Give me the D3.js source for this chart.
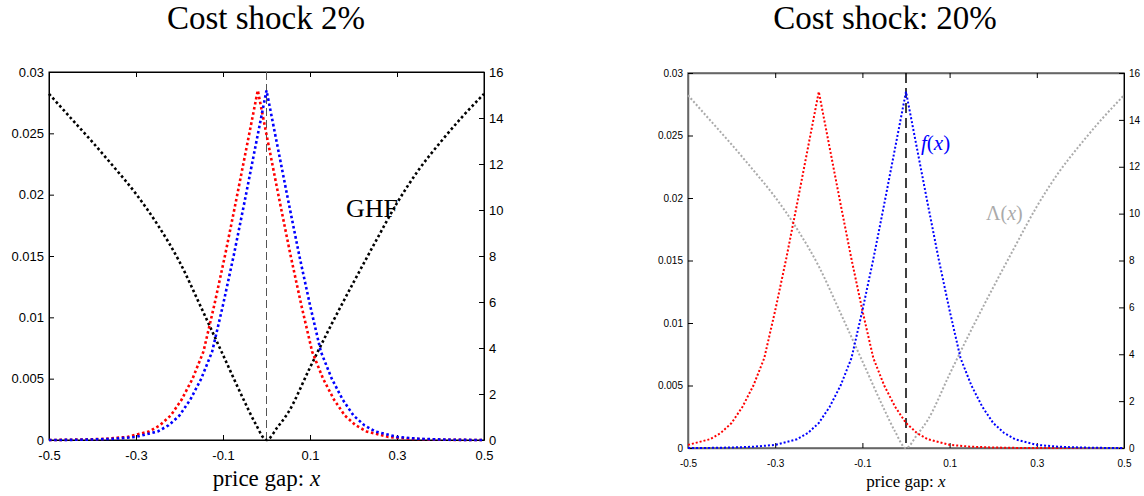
<!DOCTYPE html>
<html>
<head>
<meta charset="utf-8">
<script src="https://cdn.jsdelivr.net/npm/d3@7"></script>
<style>
  html, body { margin: 0; padding: 0; background: #fff; }
  svg { display: block; }
  .tick text { font-family: "Liberation Sans", Arial, sans-serif; }
</style>
</head>
<body>
<svg id="chart" width="1144" height="496"></svg>
<script>
// ---------------- data ----------------
const titles = ["Cost shock 2%", "Cost shock: 20%"];
const xLabelText = "price gap: ";
const xTicks = [-0.5, -0.3, -0.1, 0.1, 0.3, 0.5];
const densTicks = [0, 0.005, 0.01, 0.015, 0.02, 0.025, 0.03];
const hazTicks = [0, 2, 4, 6, 8, 10, 12, 14, 16];

// blue density (target distribution), same in both panels
const blueX = [-0.5,-0.45,-0.4,-0.35,-0.3,-0.25,-0.225,-0.2,-0.175,-0.15,-0.125,-0.1,-0.075,-0.05,-0.025,0,0.025,0.05,0.075,0.1,0.125,0.15,0.175,0.2,0.225,0.25,0.3,0.35,0.4,0.45,0.5];
const blueY = [0,0.00001,0.00004,0.0001,0.00025,0.0007,0.0012,0.002,0.0033,0.005,0.0072,0.011,0.0151,0.0195,0.024,0.0285,0.024,0.0195,0.0151,0.011,0.0072,0.005,0.0033,0.002,0.0012,0.0007,0.00025,0.0001,0.00004,0.00001,0];

// red density after 2% shock (left panel)
const redLeftX = [-0.5,-0.47,-0.42,-0.37,-0.32,-0.27,-0.245,-0.22,-0.195,-0.17,-0.145,-0.12,-0.095,-0.07,-0.045,-0.02,0.005,0.03,0.055,0.08,0.105,0.13,0.155,0.18,0.205,0.23,0.28,0.33,0.38,0.43,0.5];
const redLeftY = [0,0.00001,0.00004,0.0001,0.00025,0.0007,0.0012,0.002,0.0033,0.005,0.0072,0.011,0.0151,0.0195,0.024,0.0285,0.024,0.0195,0.0151,0.011,0.0072,0.005,0.0033,0.002,0.0012,0.0007,0.00025,0.0001,0.00004,0.00001,0];

// red density after 20% shock (right panel)
const redRightX = [-0.5,-0.45,-0.425,-0.4,-0.375,-0.35,-0.325,-0.3,-0.275,-0.25,-0.225,-0.2,-0.175,-0.15,-0.125,-0.1,-0.075,-0.05,-0.025,0,0.025,0.05,0.1,0.15,0.2,0.25,0.3,0.5];
const redRightY = [0.00025,0.0007,0.0012,0.002,0.0033,0.005,0.0072,0.011,0.0151,0.0195,0.024,0.0285,0.024,0.0195,0.0151,0.011,0.0072,0.005,0.0033,0.002,0.0012,0.0007,0.00025,0.0001,0.00004,0.00001,0,0];

// generalized hazard function Lambda(x)
const lamX = [-0.5,-0.45,-0.4,-0.35,-0.3,-0.25,-0.2,-0.15,-0.1,-0.05,-0.025,0,0.025,0.05,0.1,0.15,0.2,0.25,0.3,0.35,0.4,0.45,0.5];
const lamY = [15.05,14.0,12.95,11.85,10.7,9.35,7.75,5.75,3.7,1.65,0.7,0,0.55,1.2,3.15,5.05,6.85,8.6,10.3,11.75,12.95,14.05,15.05];

// ---------------- drawing ----------------
const svg = d3.select("#chart");

const panels = [
  { x0: 49, x1: 484, y0: 72, y1: 440, red: [redLeftX, redLeftY], lamColor: "#000",
    tickFont: 13, xPad: 11, dotW: 2.6, dash: "2.6,2.6", boxColor: "#000", boxW: 1,
    vColor: "#555", vW: 1, vDash: "8,4", titleX: 266, xlabFont: 23, xlabY: 486 },
  { x0: 688, x1: 1124, y0: 73, y1: 448, red: [redRightX, redRightY], lamColor: "#aaaaaa",
    tickFont: 10, xPad: 12, dotW: 2, dash: "2,2", boxColor: "#666", boxW: 1.5,
    vColor: "#000", vW: 1.5, vDash: "10,5", titleX: 885, xlabFont: 17, xlabY: 487 }
];

panels.forEach((p, i) => {
  const x = d3.scaleLinear().domain([-0.5, 0.5]).range([p.x0, p.x1]);
  const yD = d3.scaleLinear().domain([0, 0.03]).range([p.y1, p.y0]);
  const yH = d3.scaleLinear().domain([0, 16]).range([p.y1, p.y0]);
  const g = svg.append("g");

  // title
  svg.append("text").attr("x", p.titleX).attr("y", 29)
    .attr("text-anchor", "middle")
    .style("font-family", "'Liberation Serif', 'Times New Roman', serif")
    .style("font-size", "33px").style("fill", "#000")
    .text(titles[i]);

  // box
  g.append("rect").attr("x", p.x0).attr("y", p.y0)
    .attr("width", p.x1 - p.x0).attr("height", p.y1 - p.y0)
    .attr("fill", "none").attr("stroke", p.boxColor).attr("stroke-width", p.boxW);

  // axes
  const fmt = d => String(d);
  const bottom = g.append("g").attr("transform", `translate(0,${p.y1})`)
    .call(d3.axisBottom(x).tickValues(xTicks).tickFormat(fmt).tickSizeInner(-5).tickSizeOuter(0).tickPadding(p.xPad));
  const top = g.append("g").attr("transform", `translate(0,${p.y0})`)
    .call(d3.axisTop(x).tickValues(xTicks).tickFormat("").tickSizeInner(-5).tickSizeOuter(0));
  const left = g.append("g").attr("transform", `translate(${p.x0},0)`)
    .call(d3.axisLeft(yD).tickValues(densTicks).tickFormat(fmt).tickSizeInner(-5).tickSizeOuter(0).tickPadding(5));
  const right = g.append("g").attr("transform", `translate(${p.x1},0)`)
    .call(d3.axisRight(yH).tickValues(hazTicks).tickFormat(fmt).tickSizeInner(-5).tickSizeOuter(0).tickPadding(5));
  [bottom, top, left, right].forEach(a => {
    a.select(".domain").attr("stroke", i === 0 ? "#000" : "#666").attr("stroke-width", p.boxW);
    a.selectAll(".tick line").attr("stroke", "#000");
    a.selectAll(".tick text").style("font-size", p.tickFont + "px").attr("fill", "#000");
  });
  if (i === 1) right.select(".domain").attr("stroke", "#000").attr("stroke-width", 1);

  // vertical dashed line at x = 0
  g.append("line").attr("x1", x(0)).attr("x2", x(0)).attr("y1", p.y0).attr("y2", p.y1)
    .attr("stroke", p.vColor).attr("stroke-width", p.vW).attr("stroke-dasharray", p.vDash);

  const lineD = d3.line().x(d => x(d[0])).y(d => yD(d[1])).curve(d3.curveLinear);
  const lineH = d3.line().x(d => x(d[0])).y(d => yH(d[1])).curve(d3.curveMonotoneX);

  const lam = d3.zip(lamX, lamY);
  const red = d3.zip(p.red[0], p.red[1]);
  const blue = d3.zip(blueX, blueY);

  g.append("path").datum(lam).attr("d", lineH).attr("fill", "none")
    .attr("stroke", p.lamColor).attr("stroke-width", p.dotW).attr("stroke-dasharray", p.dash);
  g.append("path").datum(red).attr("d", lineD).attr("fill", "none")
    .attr("stroke", "#ff0000").attr("stroke-width", p.dotW).attr("stroke-dasharray", p.dash);
  g.append("path").datum(blue).attr("d", lineD).attr("fill", "none")
    .attr("stroke", "#0000ff").attr("stroke-width", p.dotW).attr("stroke-dasharray", p.dash);

  // x label
  const xl = svg.append("text").attr("x", (p.x0 + p.x1) / 2).attr("y", p.xlabY)
    .attr("text-anchor", "middle")
    .style("font-family", "'Liberation Serif', 'Times New Roman', serif")
    .style("font-size", p.xlabFont + "px").style("fill", "#000");
  xl.append("tspan").text(xLabelText);
  xl.append("tspan").style("font-style", "italic").text("x");
});

// annotations
svg.append("text").attr("x", 346).attr("y", 217)
  .style("font-family", "'Liberation Serif', serif").style("font-size", "26px").style("fill", "#000")
  .text("GHF");

const fx = svg.append("text").attr("x", 921).attr("y", 150)
  .style("font-family", "'Liberation Serif', serif").style("font-size", "21px").style("fill", "#0000ff");
fx.append("tspan").style("font-style", "italic").text("f");
fx.append("tspan").text("(");
fx.append("tspan").style("font-style", "italic").text("x");
fx.append("tspan").text(")");

const lx = svg.append("text").attr("x", 986).attr("y", 220)
  .style("font-family", "'Liberation Serif', serif").style("font-size", "20px").style("fill", "#aaaaaa");
lx.append("tspan").text("Λ(");
lx.append("tspan").style("font-style", "italic").text("x");
lx.append("tspan").text(")");
</script>
</body>
</html>
